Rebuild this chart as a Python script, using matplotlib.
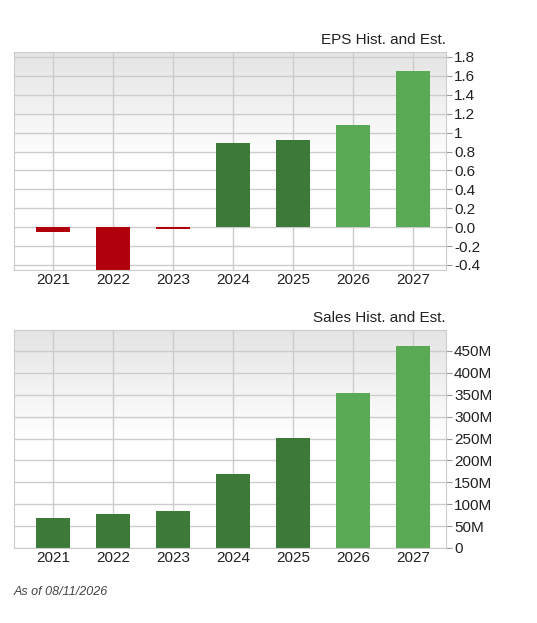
import matplotlib
matplotlib.use("Agg")
import matplotlib.pyplot as plt
import numpy as np

years = ["2021", "2022", "2023", "2024", "2025", "2026", "2027"]
eps = [-0.05, -0.47, -0.02, 0.89, 0.92, 1.08, 1.65]
sales = [69, 78, 85, 170, 252, 353, 461]  # millions
estimate = [False, False, False, False, False, True, True]
eps_ticks = [-0.4, -0.2, 0.0, 0.2, 0.4, 0.6, 0.8, 1, 1.2, 1.4, 1.6, 1.8]
eps_labels = ["-0.4", "-0.2", "0.0", "0.2", "0.4", "0.6", "0.8", "1", "1.2", "1.4", "1.6", "1.8"]
sales_ticks = [0, 50, 100, 150, 200, 250, 300, 350, 400, 450]
sales_labels = ["0"] + [f"{v}M" for v in sales_ticks[1:]]

RED, DARK, LIGHT = "#b0000c", "#3d7a3a", "#5aaa55"
plt.rcParams['font.family'] = ['Liberation Sans', 'DejaVu Sans']

fig = plt.figure(figsize=(5.37, 6.23), dpi=100)

def setup(ax, ylim, ticks, labels, title):
    x = np.arange(len(years))
    ax.set_xlim(-0.65, 6.55)
    ax.set_ylim(*ylim)
    grad = np.linspace(0, 1, 256).reshape(-1, 1)
    cmap = matplotlib.colors.LinearSegmentedColormap.from_list("g", [(0, "#ffffff"), (0.5, "#ffffff"), (1, "#e4e4e4")])
    ax.imshow(grad, extent=[-0.65, 6.55, ylim[0], ylim[1]], origin="lower", aspect="auto", cmap=cmap, zorder=0)
    ax.set_xticks(x)
    ax.set_xticklabels(years, fontsize=11, color="#222222")
    ax.set_yticks(ticks)
    ax.set_yticklabels(labels, fontsize=11, color="#222222")
    ax.yaxis.tick_right()
    ax.tick_params(axis="x", length=0, pad=2)
    ax.tick_params(axis="y", length=4, color="#999999", pad=2)
    ax.grid(True, color="#cccccc", linewidth=1, zorder=1)
    ax.set_axisbelow(True)
    for s in ax.spines.values():
        s.set_color("#cccccc")
    ax.set_title(title, loc="right", fontsize=11, color="#222222", pad=6)

ax1 = fig.add_axes([0.026, 0.5666, 0.804, 0.35])
setup(ax1, (-0.453, 1.853), eps_ticks, eps_labels, "EPS Hist. and Est.")
c1 = [RED if v < 0 else (LIGHT if e else DARK) for v, e in zip(eps, estimate)]
ax1.bar(np.arange(len(years)), eps, width=0.57, color=c1, zorder=2)

ax2 = fig.add_axes([0.026, 0.1204, 0.804, 0.35])
setup(ax2, (0, 498), sales_ticks, sales_labels, "Sales Hist. and Est.")
c2 = [LIGHT if e else DARK for e in estimate]
ax2.bar(np.arange(len(years)), sales, width=0.57, color=c2, zorder=2)

fig.text(0.026, 0.045, "As of 08/11/2026", fontsize=9, style="italic", color="#444444")

fig.savefig("out.png", dpi=100)
